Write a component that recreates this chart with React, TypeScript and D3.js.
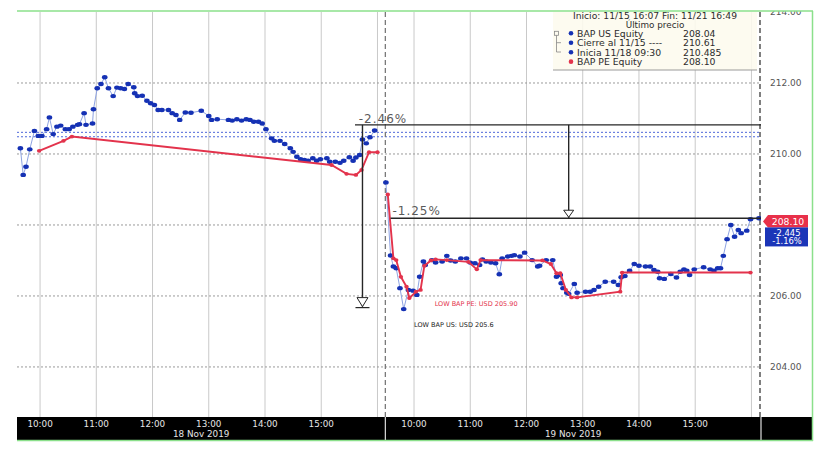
import React from "react";
import * as d3 from "d3";

// ---------- data ----------
const sessionDates = ["18 Nov 2019", "19 Nov 2019"];
const sessionOffset = [0, 6.65]; // compressed-axis hours offset of each session
const hourTicks = [10, 11, 12, 13, 14, 15, 16];
const hourLabels = ["10:00", "11:00", "12:00", "13:00", "14:00", "15:00"];
const priceTicks = [214, 212, 210, 208, 206, 204];
const hiddenPriceLabels = [208]; // covered by the last-value boxes in the reference

const usDay1: [string, number][] = [
  ["09:39", 210.16], ["09:42", 209.41], ["09:45", 209.64], ["09:49", 210.13], ["09:54", 210.65],
  ["09:58", 210.51], ["10:02", 210.51], ["10:07", 210.7], ["10:10", 211.03], ["10:14", 210.56],
  ["10:18", 210.77], ["10:22", 210.8], ["10:27", 210.7], ["10:31", 210.7], ["10:35", 210.77],
  ["10:40", 210.82], ["10:42", 210.84], ["10:47", 211.15], ["10:49", 210.82], ["10:56", 210.86],
  ["10:57", 211.26], ["11:01", 211.85], ["11:05", 211.97], ["11:09", 212.16], ["11:13", 211.85],
  ["11:18", 211.63], ["11:22", 211.87], ["11:26", 211.85], ["11:30", 211.83], ["11:34", 211.97],
  ["11:40", 211.88], ["11:41", 211.71], ["11:44", 211.63], ["11:49", 211.64], ["11:54", 211.5],
  ["11:58", 211.43], ["12:02", 211.38], ["12:06", 211.24], ["12:10", 211.24], ["12:17", 211.24],
  ["12:21", 211.15], ["12:25", 211.1], ["12:29", 210.96], ["12:35", 211.17], ["12:41", 211.16],
  ["12:52", 211.22], ["13:00", 211.07], ["13:03", 210.96], ["13:09", 210.98], ["13:21", 210.96],
  ["13:25", 210.94], ["13:30", 210.98], ["13:35", 210.94], ["13:40", 210.98], ["13:44", 210.96],
  ["13:48", 210.91], ["13:53", 210.91], ["13:57", 210.86], ["14:01", 210.7], ["14:07", 210.44],
  ["14:10", 210.37], ["14:16", 210.37], ["14:21", 210.28], ["14:27", 210.16], ["14:30", 210.06],
  ["14:34", 209.92], ["14:38", 209.85], ["14:42", 209.83], ["14:46", 209.81], ["14:51", 209.88],
  ["14:55", 209.81], ["14:59", 209.85], ["15:06", 209.88], ["15:09", 209.78], ["15:15", 209.78],
  ["15:20", 209.75], ["15:24", 209.81], ["15:30", 209.91], ["15:34", 209.81], ["15:37", 209.9],
  ["15:41", 209.97], ["15:44", 210.41], ["15:48", 210.3], ["15:52", 210.47], ["15:57", 210.66],
];

const peDay1: [string, number][] = [
  ["09:59", 210.09], ["10:25", 210.37], ["10:34", 210.49], ["15:11", 209.69], ["15:27", 209.44],
  ["15:37", 209.41], ["15:43", 209.55], ["15:51", 210.05], ["16:00", 210.05],
];

const usDay2: [string, number][] = [
  ["09:30", 209.2], ["09:35", 207.14], ["09:38", 206.83], ["09:41", 206.78], ["09:45", 206.22],
  ["09:49", 205.63], ["09:54", 206.17], ["09:59", 206.15], ["10:03", 206.03], ["10:06", 206.54],
  ["10:10", 206.97], ["10:12", 206.87], ["10:19", 207.01], ["10:23", 206.94], ["10:30", 206.97],
  ["10:35", 207.13], ["10:39", 207.0], ["10:44", 206.97], ["10:50", 207.06], ["10:56", 207.06],
  ["11:00", 206.94], ["11:05", 206.92], ["11:10", 206.87], ["11:13", 207.03], ["11:17", 206.97],
  ["11:22", 206.94], ["11:27", 206.92], ["11:31", 206.61], ["11:34", 207.06], ["11:40", 207.11],
  ["11:44", 207.13], ["11:47", 207.15], ["11:53", 207.11], ["11:58", 207.22], ["12:06", 207.01],
  ["12:12", 206.83], ["12:14", 206.85], ["12:21", 207.01], ["12:28", 207.01], ["12:32", 206.54],
  ["12:36", 206.59], ["12:37", 206.36], ["12:39", 206.22], ["12:43", 206.09], ["12:45", 206.06],
  ["12:51", 206.34], ["12:54", 206.09], ["13:03", 206.12], ["13:08", 206.12], ["13:12", 206.17],
  ["13:17", 206.26], ["13:24", 206.4], ["13:33", 206.4], ["13:38", 206.31], ["13:41", 206.53],
  ["13:45", 206.56], ["13:50", 206.71], ["13:55", 206.9], ["14:00", 206.85], ["14:07", 206.83],
  ["14:12", 206.83], ["14:16", 206.73], ["14:20", 206.68], ["14:22", 206.5], ["14:27", 206.48],
  ["14:34", 206.62], ["14:40", 206.52], ["14:44", 206.68], ["14:48", 206.75], ["14:51", 206.71],
  ["14:54", 206.59], ["14:59", 206.75], ["15:09", 206.81], ["15:16", 206.75], ["15:20", 206.71],
  ["15:24", 206.78], ["15:27", 206.78], ["15:30", 207.13], ["15:34", 207.6], ["15:38", 208.0],
  ["15:42", 207.67], ["15:46", 207.86], ["15:49", 207.77], ["15:55", 207.84], ["15:59", 208.16],
  ["16:08", 208.19],
];

const peDay2: [string, number][] = [
  ["09:32", 208.86], ["09:38", 207.06], ["09:41", 207.01], ["09:46", 206.54], ["09:52", 206.26],
  ["09:55", 205.94], ["10:02", 206.12], ["10:07", 206.17], ["10:11", 206.85], ["10:18", 207.0],
  ["10:23", 207.03], ["10:35", 207.01], ["10:58", 206.96], ["11:07", 206.75], ["11:11", 207.01],
  ["12:17", 207.0], ["12:26", 206.9], ["12:32", 206.64], ["12:36", 206.64], ["12:42", 206.17],
  ["12:48", 205.96], ["12:54", 205.96], ["13:40", 206.12], ["13:42", 206.66], ["15:59", 206.66],
];

const closeRef = 210.61;
const openRef = 210.485;
const annRef = 210.82;
const annLow = 205.7;
const annLast = 208.19;
const annLowPct = "-2.46%";
const annLastPct = "-1.25%";
const lowPE = 205.9;
const lowUS = 205.6;
const lowPELabel = "LOW BAP PE: USD 205.90";
const lowUSLabel = "LOW BAP US: USD 205.6";

const legendHeader = "Inicio: 11/15 16:07 Fin: 11/21 16:49";
const legendSub = "Último precio";
const legendLabels = ["BAP US Equity", "Cierre al 11/15 ----", "Inicia 11/18 09:30", "BAP PE Equity"];
const legendValues = ["208.04", "210.61", "210.485", "208.10"];
const lastPE = 208.1;
const lastPELabel = "208.10";
const chgAbs = "-2.445";
const chgPct = "-1.16%";

// ---------- styles ----------
const BLUE = "#1531b4";
const BLUE_LINE = "#8ea3e2";
const RED = "#e3334c";
const GREEN = "#8be08b";
const FONT = "DejaVu Sans";

const toU = (day: number, t: string) => {
  const [h, m] = t.split(":").map(Number);
  return h + m / 60 - 10 + sessionOffset[day];
};

export default function App() {
  const x = d3.scaleLinear().domain([-0.41, 12.82]).range([17, 761]);
  const y = d3.scaleLinear().domain([202.59, 214]).range([417, 12]);
  const pos = (day: number, t: string) => x(toU(day, t));
  const left = 17, right = 761, top = 12, bottom = 417;
  const boundary = x(6.14);

  const sessions = [
    { day: 0, us: usDay1, pe: peDay1 },
    { day: 1, us: usDay2, pe: peDay2 },
  ];
  const mkLine = (day: number) =>
    d3.line<[string, number]>().x((d) => pos(day, d[0])).y((d) => y(d[1]));

  const a1x = pos(0, "15:44");
  const a2x = pos(1, "12:45");
  const yRef = y(annRef), yLow = y(annLow), yLast = y(annLast);
  const ann = "#262626";

  const sessionSpans = [
    [left, boundary],
    [boundary, right],
  ];

  const yPE = y(lastPE);

  return (
    <svg width={830} height={451} style={{ position: "absolute", left: 0, top: 0, background: "#fff" }} fontFamily={FONT}>
      <defs>
        <clipPath id="plot">
          <rect x={left} y={top} width={right - left} height={bottom - top} />
        </clipPath>
        <clipPath id="axis">
          <rect x={762} y={11} width={60} height={406} />
        </clipPath>
      </defs>
      <rect x={0} y={0} width={830} height={451} fill="#fff" />

      {/* vertical hour gridlines */}
      {[0, 1].map((d) =>
        hourTicks.map((h) => (
          <line key={`g${d}-${h}`} x1={x(h - 10 + sessionOffset[d])} x2={x(h - 10 + sessionOffset[d])} y1={top} y2={bottom} stroke="#c9c9c9" strokeWidth={1} />
        ))
      )}
      {/* horizontal dotted gridlines */}
      {priceTicks.slice(1).map((p) => (
        <line key={`h${p}`} x1={left} x2={right} y1={y(p)} y2={y(p)} stroke="#9a9a9a" strokeDasharray="2,2" strokeWidth={1} />
      ))}
      {/* reference dotted lines */}
      {[closeRef, openRef].map((p) => (
        <line key={`r${p}`} x1={left} x2={right} y1={y(p)} y2={y(p)} stroke="#4d67da" strokeDasharray="2,2" strokeWidth={1} />
      ))}
      {/* session separators */}
      <line x1={boundary} x2={boundary} y1={top} y2={bottom} stroke="#7a7a7a" strokeDasharray="5,3" strokeWidth={1.3} />
      <line x1={760} x2={760} y1={top} y2={bottom} stroke="#555" strokeDasharray="5,3" strokeWidth={1.5} />

      <g clipPath="url(#plot)">
        {sessions.map((s) => (
          <path key={`bl${s.day}`} d={mkLine(s.day)(s.us) || ""} fill="none" stroke={BLUE_LINE} strokeWidth={1} />
        ))}
        {sessions.map((s) =>
          s.us.map((d, i) => (
            <ellipse key={`bd${s.day}-${i}`} cx={pos(s.day, d[0])} cy={y(d[1])} rx={2.8} ry={2.2} fill={BLUE} />
          ))
        )}
        {sessions.map((s) => (
          <path key={`rl${s.day}`} d={mkLine(s.day)(s.pe) || ""} fill="none" stroke={RED} strokeWidth={1.9} />
        ))}
        {sessions.map((s) =>
          s.pe.map((d, i) => (
            <ellipse key={`rd${s.day}-${i}`} cx={pos(s.day, d[0])} cy={y(d[1])} rx={2.2} ry={1.9} fill={RED} />
          ))
        )}
      </g>

      {/* annotations */}
      <line x1={pos(0, "15:36")} x2={right} y1={yRef} y2={yRef} stroke={ann} strokeWidth={1.3} />
      <line x1={a1x} x2={a1x} y1={yRef} y2={yLow} stroke={ann} strokeWidth={1.4} />
      <path d={`M${a1x - 5.5},${yLow - 9} L${a1x},${yLow} L${a1x + 5.5},${yLow - 9} Z`} fill="#fff" stroke={ann} strokeWidth={1} />
      <line x1={a1x - 7} x2={a1x + 7} y1={yLow + 1} y2={yLow + 1} stroke={ann} strokeWidth={1.2} />
      <line x1={pos(1, "09:35")} x2={right} y1={yLast} y2={yLast} stroke={ann} strokeWidth={1.3} />
      <line x1={a2x} x2={a2x} y1={yRef} y2={yLast} stroke={ann} strokeWidth={1.4} />
      <path d={`M${a2x - 5},${yLast - 8} L${a2x},${yLast - 1} L${a2x + 5},${yLast - 8} Z`} fill="#fff" stroke={ann} strokeWidth={1} />
      <text x={pos(0, "15:40")} y={yRef - 2} fontSize={12} fill="#5a5a5a" letterSpacing={1}>{annLowPct}</text>
      <text x={pos(1, "09:37")} y={yLast - 3} fontSize={12} fill="#5a5a5a" letterSpacing={1}>{annLastPct}</text>

      <text x={pos(1, "10:22")} y={y(lowPE) + 6.5} fontSize={6.5} fill={RED}>{lowPELabel}</text>
      <text x={pos(1, "10:00")} y={y(lowUS) + 17} fontSize={6.5} fill="#222">{lowUSLabel}</text>

      {/* legend */}
      <rect x={553} y={12} width={204} height={58} fill="#fdfbee" opacity={0.88} />
      <line x1={553} x2={757} y1={70} y2={70} stroke="#9a9a9a" strokeWidth={1} />
      <text x={655} y={19} fontSize={9.2} fill="#2c2c2c" textAnchor="middle">{legendHeader}</text>
      <text x={655} y={28.3} fontSize={8.8} fill="#2c2c2c" textAnchor="middle">{legendSub}</text>
      <rect x={554.5} y={31.3} width={4} height={4} fill="none" stroke="#888" strokeWidth={0.8} />
      <line x1={556.5} x2={556.5} y1={35.3} y2={52} stroke="#888" strokeWidth={0.8} />
      <line x1={556.5} x2={561} y1={42.7} y2={42.7} stroke="#888" strokeWidth={0.8} />
      <line x1={556.5} x2={561} y1={52} y2={52} stroke="#888" strokeWidth={0.8} />
      {legendLabels.map((lab, i) => {
        const cy = 33.3 + i * 9.45;
        return (
          <g key={`lg${i}`}>
            <circle cx={571} cy={cy} r={2.3} fill={i === 3 ? RED : BLUE} />
            <text x={577} y={cy + 3.4} fontSize={9.3} fill="#2c2c2c">{lab}</text>
            <text x={683} y={cy + 3.4} fontSize={9.3} fill="#2c2c2c">{legendValues[i]}</text>
          </g>
        );
      })}

      {/* right axis labels */}
      <g clipPath="url(#axis)">
        {priceTicks.filter((p) => !hiddenPriceLabels.includes(p)).map((p) => (
          <text key={`yl${p}`} x={770} y={y(p) + 3.3} fontSize={9} fill="#555">{p.toFixed(2)}</text>
        ))}
      </g>

      {/* last value boxes */}
      <path d={`M${763},${yPE} L${768},${yPE - 6.5} L${808},${yPE - 6.5} L${808},${yPE + 6} L${768},${yPE + 6} Z`} fill="#e8304a" />
      <text x={788} y={yPE + 3.3} fontSize={9.3} fill="#fff" textAnchor="middle">{lastPELabel}</text>
      <rect x={765} y={yPE + 6} width={43} height={19} fill="#1b35b8" />
      <text x={787} y={yPE + 14.4} fontSize={8.4} fill="#fff" textAnchor="middle">{chgAbs}</text>
      <text x={787} y={yPE + 23} fontSize={8.4} fill="#fff" textAnchor="middle">{chgPct}</text>

      {/* bottom time band */}
      <rect x={left} y={417} width={812 - left} height={23} fill="#000" />
      <line x1={boundary} x2={boundary} y1={417} y2={440} stroke="#ddd" strokeWidth={1.2} />
      <line x1={761} x2={761} y1={417} y2={440} stroke="#ddd" strokeWidth={1.2} />
      {[0, 1].map((d) =>
        hourLabels.map((lab, i) => (
          <text key={`tl${d}-${i}`} x={x(hourTicks[i] - 10 + sessionOffset[d])} y={427} fontSize={8.8} fill="#e6e6e6" textAnchor="middle">{lab}</text>
        ))
      )}
      {sessionDates.map((dt, i) => (
        <text key={`dt${i}`} x={(sessionSpans[i][0] + sessionSpans[i][1]) / 2} y={437} fontSize={8.8} fill="#e6e6e6" textAnchor="middle">{dt}</text>
      ))}

      {/* green frame */}
      <line x1={left} x2={813} y1={11} y2={11} stroke={GREEN} strokeWidth={1.5} />
      <line x1={812.5} x2={812.5} y1={11} y2={441} stroke={GREEN} strokeWidth={1.5} />
      <line x1={left} x2={813} y1={440.5} y2={440.5} stroke={GREEN} strokeWidth={1.5} />
    </svg>
  );
}
